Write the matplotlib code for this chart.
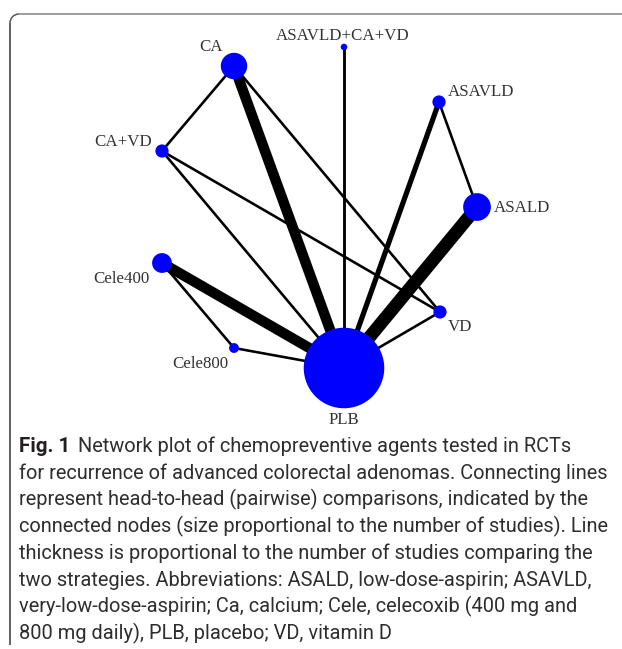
import numpy as np
import matplotlib
matplotlib.use('Agg')
from matplotlib import pyplot as plt
from matplotlib.patches import Circle, Arc

# nodes: name, number of studies (node size)
nodes = ['ASAVLD+CA+VD', 'CA', 'ASAVLD', 'CA+VD', 'ASALD',
         'Cele400', 'VD', 'Cele800', 'PLB']
node_n = [1, 4, 2, 2, 4.2, 3, 2, 1.5, 12.2]

# edges: (a, b, number of studies comparing)
edges = [
    ('CA', 'CA+VD', 1),
    ('CA', 'PLB', 4),
    ('CA', 'VD', 1),
    ('ASAVLD+CA+VD', 'PLB', 1.1),
    ('ASAVLD', 'PLB', 2),
    ('ASAVLD', 'ASALD', 1),
    ('ASALD', 'PLB', 5),
    ('CA+VD', 'PLB', 1),
    ('CA+VD', 'VD', 1),
    ('VD', 'PLB', 1),
    ('Cele400', 'PLB', 4),
    ('Cele400', 'Cele800', 1),
    ('Cele800', 'PLB', 1),
]

caption_bold = 'Fig. 1'
caption_lines = [
    'Network plot of chemopreventive agents tested in RCTs',
    'for recurrence of advanced colorectal adenomas. Connecting lines',
    'represent head-to-head (pairwise) comparisons, indicated by the',
    'connected nodes (size proportional to the number of studies). Line',
    'thickness is proportional to the number of studies comparing the',
    'two strategies. Abbreviations: ASALD, low-dose-aspirin; ASAVLD,',
    'very-low-dose-aspirin; Ca, calcium; Cele, celecoxib (400 mg and',
    '800 mg daily), PLB, placebo; VD, vitamin D',
]

# layout of the network (pixel space of the figure)
pos = {
    'ASAVLD+CA+VD': (344, 47),
    'CA': (234, 66),
    'ASAVLD': (439, 102),
    'CA+VD': (162, 151),
    'ASALD': (477, 207),
    'Cele400': (162, 263),
    'VD': (440, 312),
    'Cele800': (234, 348),
    'PLB': (344, 368),
}
# label anchor: (x, y, ha)
label_pos = {
    'ASAVLD+CA+VD': (343, 36, 'center'),
    'CA': (211, 47, 'center'),
    'ASAVLD': (448, 92, 'left'),
    'CA+VD': (152, 142, 'right'),
    'ASALD': (494, 208, 'left'),
    'Cele400': (150, 279, 'right'),
    'VD': (448, 327, 'left'),
    'Cele800': (228, 364, 'right'),
    'PLB': (344, 420, 'center'),
}

W, H = 622, 649
fig = plt.figure(figsize=(W / 100, H / 100), dpi=100)
ax = fig.add_axes([0, 0, 1, 1])
ax.set_xlim(0, W)
ax.set_ylim(H, 0)
ax.axis('off')

px = 72 / 100  # points per pixel

# frame with rounded top-left corner
r = 9
ax.plot([10, 10], [H - 4, 14 + r], color='#333333', lw=1.5 * px, solid_capstyle='butt')
ax.plot([10 + r, W], [14, 14], color='#808080', lw=1.5 * px, solid_capstyle='butt')
ax.add_patch(Arc((10 + r, 14 + r), 2 * r, 2 * r, theta1=180, theta2=270,
                 color='#555555', lw=1.5 * px))

# edges
for a, b, n in edges:
    xa, ya = pos[a]
    xb, yb = pos[b]
    ax.plot([xa, xb], [ya, yb], color='black', lw=2.6 * n * px,
            solid_capstyle='butt', zorder=1)

# nodes
for name, n in zip(nodes, node_n):
    x, y = pos[name]
    ax.add_patch(Circle((x, y), 3.3 * n, color='#0000ff', zorder=2, lw=0))
    lx, ly, ha = label_pos[name]
    ax.text(lx, ly, name, ha=ha, va='center', fontsize=12.2,
            family='Liberation Serif', color='#333333', zorder=3)

# caption, size fitted so the second line spans the box width
cap_font = 'Roboto'
probe = ax.text(19, 0, caption_lines[1], fontsize=14, family=cap_font)
fig.canvas.draw()
w = probe.get_window_extent().width
probe.remove()
cap_size = 14 * 593 / w

base0 = 452
step = 26.7
ax.text(19, base0, caption_bold, fontsize=cap_size * 1.03, family=cap_font,
        weight='bold', va='baseline', color='#231f20')
for i, line in enumerate(caption_lines):
    x0 = 78 if i == 0 else 19
    ax.text(x0, base0 + i * step, line, fontsize=cap_size, family=cap_font,
            va='baseline', color='#2e2e2e')

fig.savefig('out.png', dpi=100)
